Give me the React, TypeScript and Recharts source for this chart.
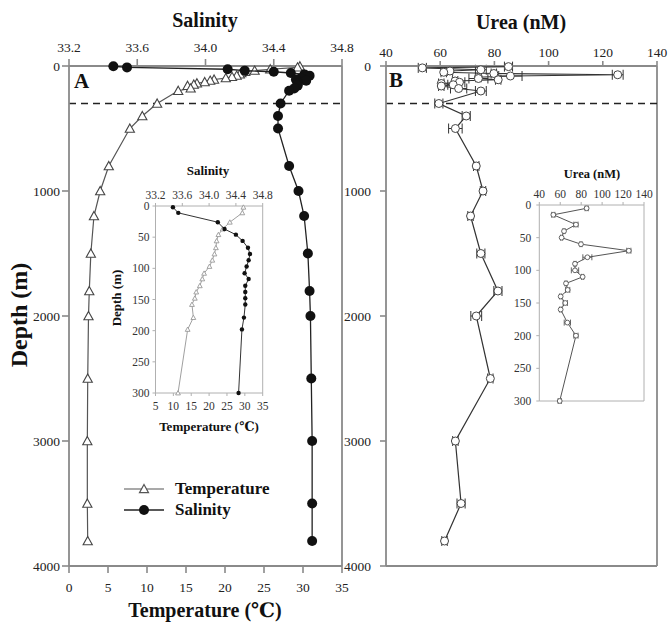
import React from 'react';
import { ScatterChart, Scatter, XAxis, YAxis, ReferenceLine, ErrorBar, Legend } from 'recharts';

const SERIF = '"Liberation Serif", "Times New Roman", "DejaVu Serif", serif';

// ---- Panel A: temperature & salinity profiles ----
const depthA = [2, 11, 26, 37, 46, 56, 67, 77, 87, 97, 108, 117, 128, 138, 148, 158, 179, 198, 300, 400, 500, 800, 1000, 1200, 1500, 1800, 2000, 2500, 3000, 3500, 3800];
const temperature = [29.6, 29.3, 25.8, 23.8, 22.6, 22.1, 21.9, 21.5, 20.9, 20.1, 18.6, 18.1, 17.4, 16.4, 16.0, 15.2, 15.6, 14.0, 11.3, 9.4, 7.8, 5.1, 4.0, 3.2, 2.8, 2.6, 2.5, 2.4, 2.35, 2.35, 2.4];
const salinity = [33.46, 33.54, 34.13, 34.23, 34.40, 34.50, 34.58, 34.61, 34.59, 34.56, 34.53, 34.59, 34.54, 34.54, 34.54, 34.54, 34.52, 34.49, 34.44, 34.425, 34.425, 34.49, 34.545, 34.578, 34.60, 34.61, 34.615, 34.62, 34.625, 34.625, 34.625];

// ---- Panel B: urea profile ----
const depthU = [5, 15, 30, 40, 50, 60, 70, 80, 90, 100, 110, 120, 130, 140, 150, 160, 180, 200, 300, 400, 500, 800, 1000, 1200, 1500, 1800, 2000, 2500, 3000, 3500, 3800];
const urea = [85.2, 53.4, 75.0, 63.6, 61.3, 79.8, 125.5, 85.9, 74.1, 74.1, 81.4, 65.5, 67.1, 60.4, 64.8, 60.4, 66.8, 75.0, 59.5, 69.6, 65.6, 73.3, 75.8, 71.2, 75.0, 81.3, 73.3, 78.5, 65.6, 67.7, 61.6];
const ureaErr = [1.5, 1.5, 2, 1, 1, 1, 2, 4.3, 1, 3.5, 1, 1, 2, 1, 2, 1, 3, 2, 1.5, 1.5, 2.5, 1, 1, 1, 1.5, 1.5, 2, 1, 1, 1.5, 1];

// ---- Tick labels ----
const tempTicks = [0, 5, 10, 15, 20, 25, 30, 35];
const salTicks = [33.2, 33.6, 34.0, 34.4, 34.8];
const depthTicks = [0, 1000, 2000, 3000, 4000];
const ureaTicks = [40, 60, 80, 100, 120, 140];
const insetTempTicks = [5, 10, 15, 20, 25, 30, 35];
const insetDepthTicks = [0, 50, 100, 150, 200, 250, 300];

const tempData = depthA.map((d, i) => ({ d, v: temperature[i] }));
const salData = depthA.map((d, i) => ({ d, v: salinity[i] }));
const ureaData = depthU.map((d, i) => ({ d, v: urea[i], e: ureaErr[i] }));
const insetTemp = tempData.filter((p) => p.d <= 300);
const insetSal = salData.filter((p) => p.d <= 300);
const insetUrea = ureaData.filter((p) => p.d <= 300);

const AX = '#8a8a8a';
const INSET_AX = '#b0b0b0';

const triShape = (half: number, stroke: string, sw: number) => (p: any) => {
  const { cx, cy } = p;
  if (cx == null || cy == null) return <g />;
  return (
    <path
      d={`M${cx},${cy - half}L${cx + half},${cy + half * 0.8}L${cx - half},${cy + half * 0.8}Z`}
      fill="#fff"
      stroke={stroke}
      strokeWidth={sw}
    />
  );
};
const dotShape = (r: number, fill: string) => (p: any) => {
  const { cx, cy } = p;
  if (cx == null || cy == null) return <g />;
  return <circle cx={cx} cy={cy} r={r} fill={fill} />;
};
const ringShape = (r: number, stroke: string, sw: number) => (p: any) => {
  const { cx, cy } = p;
  if (cx == null || cy == null) return <g />;
  return <circle cx={cx} cy={cy} r={r} fill="#fff" stroke={stroke} strokeWidth={sw} />;
};

const mainTick = { fontSize: 13.5, fill: '#222', fontFamily: SERIF };
const insetTick = { fontSize: 11.5, fill: '#333', fontFamily: SERIF };

const LegendBox = () => (
  <div style={{ fontFamily: SERIF, fontWeight: 'bold', fontSize: 17, color: '#111' }}>
    <div style={{ display: 'flex', alignItems: 'center', height: 21 }}>
      <svg width={46} height={16}>
        <line x1={1} y1={8} x2={41} y2={8} stroke="#555" strokeWidth={1.2} />
        <path d="M21,3.5L25.5,11.6L16.5,11.6Z" fill="#fff" stroke="#555" strokeWidth={1.2} />
      </svg>
      <span style={{ marginLeft: 6 }}>Temperature</span>
    </div>
    <div style={{ display: 'flex', alignItems: 'center', height: 21 }}>
      <svg width={46} height={16}>
        <line x1={1} y1={8} x2={41} y2={8} stroke="#222" strokeWidth={1.3} />
        <circle cx={21} cy={8} r={5} fill="#111" />
      </svg>
      <span style={{ marginLeft: 6 }}>Salinity</span>
    </div>
  </div>
);

export default function App() {
  return (
    <div style={{ position: 'absolute', left: 0, top: 0, width: 668, height: 623, background: '#fff', fontFamily: SERIF }}>
      {/* Panel A */}
      <div style={{ position: 'absolute', left: 0, top: 0 }}>
        <ScatterChart width={360} height={623} margin={{ top: 36, right: 18, bottom: 27, left: 10 }}>
          <XAxis xAxisId="t" type="number" dataKey="v" domain={[0, 35]} ticks={tempTicks} interval={0}
            orientation="bottom" height={30} tickSize={7} tickMargin={9} tick={mainTick}
            axisLine={{ stroke: AX, strokeWidth: 1.8 }} tickLine={{ stroke: AX, strokeWidth: 1.6 }} />
          <XAxis xAxisId="s" type="number" dataKey="v" domain={[33.2, 34.8]} ticks={salTicks} interval={0}
            orientation="top" height={30} tickSize={7} tickMargin={7} tick={mainTick}
            tickFormatter={(v: number) => v.toFixed(1)}
            axisLine={{ stroke: AX, strokeWidth: 1.8 }} tickLine={{ stroke: AX, strokeWidth: 1.6 }} />
          <YAxis yAxisId="d" type="number" dataKey="d" domain={[0, 4000]} ticks={depthTicks} interval={0}
            reversed width={59} tickSize={7} tickMargin={2} tick={mainTick}
            axisLine={{ stroke: AX, strokeWidth: 1.8 }} tickLine={{ stroke: AX, strokeWidth: 1.6 }} />
          <ReferenceLine xAxisId="t" yAxisId="d" x={35} stroke={AX} strokeWidth={1.8} />
          <ReferenceLine xAxisId="t" yAxisId="d" y={300} stroke="#222" strokeWidth={1.5} strokeDasharray="7 5" />
          <Scatter name="Temperature" xAxisId="t" yAxisId="d" data={tempData}
            line={{ stroke: '#555', strokeWidth: 1.2 }} shape={triShape(4.6, '#444', 1.1)} isAnimationActive={false} />
          <Scatter name="Salinity" xAxisId="s" yAxisId="d" data={salData}
            line={{ stroke: '#222', strokeWidth: 1.3 }} shape={dotShape(5, '#111')} isAnimationActive={false} />
          <Legend layout="horizontal" verticalAlign="middle" align="center" content={() => <LegendBox />}
            wrapperStyle={{ left: 123, top: 478, width: 200, height: 44 }} />
        </ScatterChart>
      </div>

      {/* Inset A */}
      <div style={{ position: 'absolute', left: 100, top: 150 }}>
        <ScatterChart width={180} height={290} margin={{ top: 36, right: 17.3, bottom: 27, left: 15.5 }}>
          <XAxis xAxisId="t" type="number" dataKey="v" domain={[5, 35]} ticks={insetTempTicks} interval={0}
            orientation="bottom" height={20} tickSize={3} tickMargin={6} tick={insetTick}
            axisLine={{ stroke: INSET_AX }} tickLine={{ stroke: INSET_AX }} />
          <XAxis xAxisId="s" type="number" dataKey="v" domain={[33.2, 34.8]} ticks={salTicks} interval={0}
            orientation="top" height={20} tickSize={3} tickMargin={4} tick={insetTick}
            tickFormatter={(v: number) => v.toFixed(1)}
            axisLine={{ stroke: INSET_AX }} tickLine={{ stroke: INSET_AX }} />
          <YAxis yAxisId="d" type="number" dataKey="d" domain={[0, 300]} ticks={insetDepthTicks} interval={0}
            reversed width={40} tickSize={3} tickMargin={3} tick={insetTick}
            axisLine={{ stroke: INSET_AX }} tickLine={{ stroke: INSET_AX }} />
          <ReferenceLine xAxisId="t" yAxisId="d" x={35} stroke={INSET_AX} />
          <Scatter xAxisId="t" yAxisId="d" data={insetTemp}
            line={{ stroke: '#a0a0a0', strokeWidth: 1 }} shape={triShape(2.4, '#999', 0.9)} isAnimationActive={false} />
          <Scatter xAxisId="s" yAxisId="d" data={insetSal}
            line={{ stroke: '#333', strokeWidth: 1 }} shape={dotShape(2.2, '#111')} isAnimationActive={false} />
        </ScatterChart>
      </div>

      {/* Panel B */}
      <div style={{ position: 'absolute', left: 340, top: 0 }}>
        <ScatterChart width={328} height={623} margin={{ top: 36, right: 11, bottom: 57, left: 6 }}>
          <XAxis xAxisId="u" type="number" dataKey="v" domain={[40, 140]} ticks={ureaTicks} interval={0}
            orientation="top" height={30} tickSize={5} tickMargin={4} tick={mainTick}
            axisLine={{ stroke: AX, strokeWidth: 1.8 }} tickLine={{ stroke: AX, strokeWidth: 1.6 }} />
          <YAxis yAxisId="d" type="number" dataKey="d" domain={[0, 4000]} ticks={depthTicks} interval={0}
            reversed width={40} tickSize={6} tickMargin={9} tick={mainTick}
            axisLine={{ stroke: AX, strokeWidth: 1.8 }} tickLine={{ stroke: AX, strokeWidth: 1.6 }} />
          <ReferenceLine xAxisId="u" yAxisId="d" x={140} stroke={AX} strokeWidth={1.8} />
          <ReferenceLine xAxisId="u" yAxisId="d" y={4000} stroke={AX} strokeWidth={1.8} />
          <ReferenceLine xAxisId="u" yAxisId="d" y={300} stroke="#222" strokeWidth={1.5} strokeDasharray="7 5" />
          <Scatter name="Urea" xAxisId="u" yAxisId="d" data={ureaData}
            line={{ stroke: '#333', strokeWidth: 1.2 }} shape={ringShape(4, '#444', 1)} isAnimationActive={false}>
            <ErrorBar dataKey="e" direction="x" width={5} stroke="#333" strokeWidth={1} isAnimationActive={false} />
          </Scatter>
        </ScatterChart>
      </div>

      {/* Inset B */}
      <div style={{ position: 'absolute', left: 490, top: 150 }}>
        <ScatterChart width={170} height={260} margin={{ top: 35, right: 16, bottom: 9, left: 9.3 }}>
          <XAxis xAxisId="u" type="number" dataKey="v" domain={[40, 140]} ticks={ureaTicks} interval={0}
            orientation="top" height={20} tickSize={3} tickMargin={4} tick={insetTick}
            axisLine={{ stroke: INSET_AX }} tickLine={{ stroke: INSET_AX }} />
          <YAxis yAxisId="d" type="number" dataKey="d" domain={[0, 300]} ticks={insetDepthTicks} interval={0}
            reversed width={40} tickSize={3} tickMargin={5} tick={insetTick}
            axisLine={{ stroke: INSET_AX }} tickLine={{ stroke: INSET_AX }} />
          <ReferenceLine xAxisId="u" yAxisId="d" x={140} stroke={INSET_AX} />
          <ReferenceLine xAxisId="u" yAxisId="d" y={300} stroke={INSET_AX} />
          <Scatter xAxisId="u" yAxisId="d" data={insetUrea}
            line={{ stroke: '#555', strokeWidth: 1 }} shape={ringShape(2.4, '#555', 0.9)} isAnimationActive={false}>
            <ErrorBar dataKey="e" direction="x" width={3} stroke="#555" strokeWidth={0.9} isAnimationActive={false} />
          </Scatter>
        </ScatterChart>
      </div>

      {/* Titles and labels */}
      <svg width={668} height={623} style={{ position: 'absolute', left: 0, top: 0, pointerEvents: 'none' }}>
        <g fontFamily={SERIF} fontWeight="bold" fill="#111">
          <text x={205} y={27} fontSize={20} textAnchor="middle">Salinity</text>
          <text x={521} y={29} fontSize={20} textAnchor="middle">Urea (nM)</text>
          <text x={205} y={617} fontSize={20} textAnchor="middle">Temperature (℃)</text>
          <text x={21} y={315} fontSize={24} textAnchor="middle" dominantBaseline="middle" transform="rotate(-90 21 315)">Depth (m)</text>
          <text x={74} y={88} fontSize={21}>A</text>
          <text x={389} y={87} fontSize={21}>B</text>
          <text x={208} y={175} fontSize={13} textAnchor="middle">Salinity</text>
          <text x={209} y={431} fontSize={13} textAnchor="middle">Temperature (℃)</text>
          <text x={118} y={298} fontSize={13} textAnchor="middle" dominantBaseline="middle" transform="rotate(-90 118 298)">Depth (m)</text>
          <text x={592} y={178} fontSize={12.5} textAnchor="middle">Urea (nM)</text>
        </g>
      </svg>
    </div>
  );
}
